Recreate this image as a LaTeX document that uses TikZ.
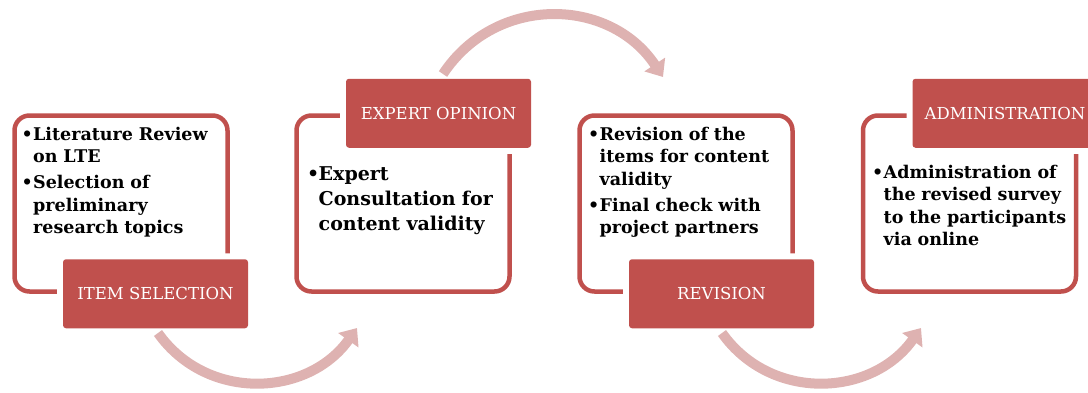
\documentclass[tikz,border=0pt]{standalone}
\usepackage{fontspec}
\setmainfont{DejaVu Serif}
\usetikzlibrary{arrows.meta}
\definecolor{boxred}{RGB}{192,80,77}
\definecolor{arrowpink}{RGB}{222,178,177}
\newcommand{\bitem}[1]{{\hangindent=11.5pt\hangafter=1\noindent
  \makebox[11.5pt][l]{\textbullet}#1\par}}

\begin{document}
\begin{tikzpicture}[x=1pt, y=-1pt,
        frame/.style={draw=boxred, line width=4.5pt, rounded corners=15pt,
          minimum width=213pt, minimum height=176pt},
        tag/.style={fill=boxred, rounded corners=3pt, minimum width=185pt,
          minimum height=69pt, text=white, font=\fontsize{16.5}{20}\selectfont,
          preaction={draw=white, line width=12pt}},
        body/.style={anchor=north west, inner sep=0pt, text width=230pt,
          align=left, font=\bfseries\fontsize{17.5}{22.5}\selectfont},
        swoop/.style={draw=arrowpink, line width=10pt,
          -{Triangle[width=24pt,length=15pt]}}]
     \useasboundingbox (0,0) rectangle (1088,392);
     \clip (0,0) rectangle (1088,392);
     % frames
     \node (f1) at (121,203.5) [frame] {};
     \node (f2) at (403,203.5) [frame] {};
     \node (f3) at (686,203.5) [frame] {};
     \node (f4) at (969.5,203.5) [frame] {};
     % tags
     \node (l1) at ([xshift=34.5pt]f1.south) [tag] {ITEM SELECTION};
     \node (l2) at ([xshift=35.5pt]f2.north) [tag] {EXPERT OPINION};
     \node (l3) at ([xshift=35.5pt]f3.south) [tag] {REVISION};
     \node (l4) at ([xshift=35.5pt]f4.north) [tag] {ADMINISTRATION};
     % texts
     \node (t1) at (21.5,126.5) [body] {\bitem{Literature Review\newline on LTE}
       \vspace{3.5pt}\bitem{Selection of\newline preliminary\newline research topics}};
     \node (t2) at (307,166) [body, font=\bfseries\fontsize{19}{25}\selectfont]
       {\bitem{Expert\newline Consultation for\newline content validity}};
     \node (t3) at (588,126.5) [body] {\bitem{Revision of the\newline items for content\newline validity}
       \vspace{3.5pt}\bitem{Final check with\newline project partners}};
     \node (t4) at (872,164.5) [body] {\bitem{Administration of\newline the revised survey\newline
       to the participants\newline via online}};
     % arrows
     \coordinate (a1) at (158,333);
     \coordinate (b1) at (357,328);
     \coordinate (a2) at (443,74);
     \coordinate (b2) at (663,77);
     \coordinate (a3) at (722,333);
     \coordinate (b3) at (921,328);
     \draw[swoop] (a1) .. controls +(49,69) and +(-49,69) .. (b1);
     \draw[swoop] (a2) .. controls +(53,-80) and +(-53,-80) .. (b2);
     \draw[swoop] (a3) .. controls +(49,69) and +(-49,69) .. (b3);
\end{tikzpicture}
\end{document}
